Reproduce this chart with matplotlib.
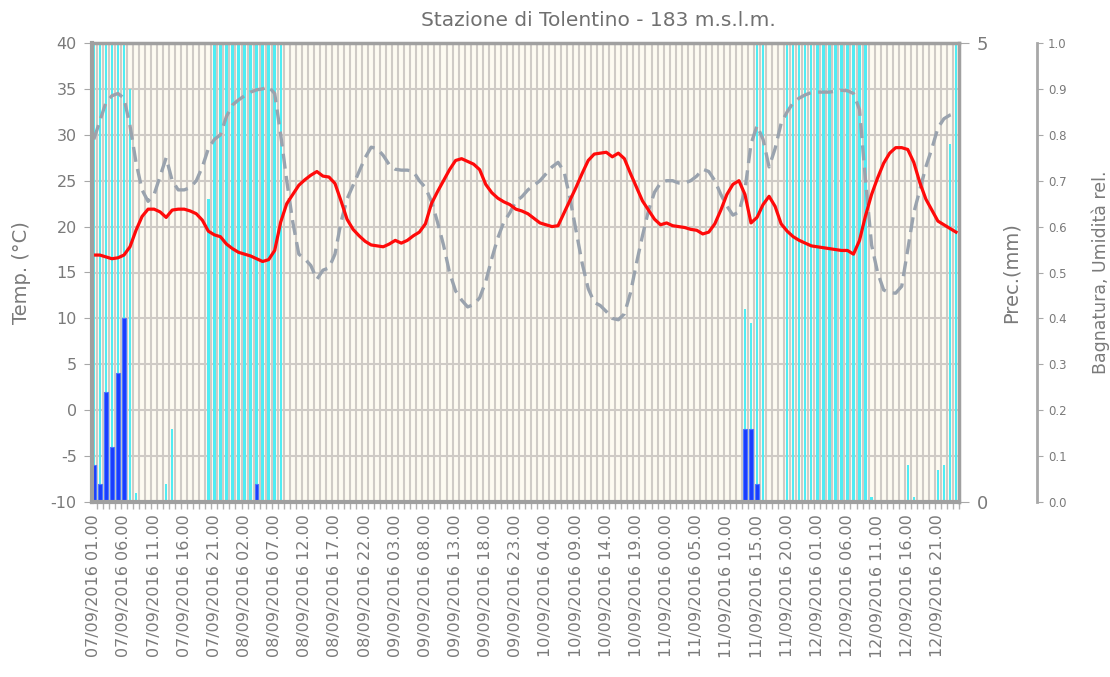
import matplotlib
matplotlib.use("Agg")
import matplotlib.pyplot as plt
import numpy as np
from matplotlib.ticker import FixedLocator

# ---------------- data (hourly, 07/09/2016 01.00 -> 13/09/2016 00.00) ----------------
temperature = [
    16.9, 16.9, 16.7, 16.5, 16.6, 16.9, 17.8, 19.6, 21.1, 21.9, 21.9, 21.6, 21.0, 21.8, 21.9, 21.9, 21.7, 21.4, 20.7, 19.5, 19.1, 18.9, 18.1, 17.6,
    17.2, 17.0, 16.8, 16.5, 16.2, 16.4, 17.4, 20.5, 22.5, 23.5, 24.5, 25.1, 25.6, 26.0, 25.5, 25.4, 24.7, 22.8, 20.8, 19.7, 19.0, 18.4, 18.0, 17.9,
    17.8, 18.1, 18.5, 18.2, 18.5, 19.0, 19.4, 20.3, 22.5, 23.8, 25.0, 26.2, 27.2, 27.4, 27.1, 26.8, 26.2, 24.6, 23.7, 23.1, 22.7, 22.4, 21.9, 21.7,
    21.4, 20.9, 20.4, 20.2, 20.0, 20.1, 21.5, 22.9, 24.3, 25.8, 27.2, 27.9, 28.0, 28.1, 27.6, 28.0, 27.4, 25.8, 24.3, 22.8, 21.8, 20.8, 20.2, 20.4,
    20.1, 20.0, 19.9, 19.7, 19.6, 19.2, 19.4, 20.3, 21.8, 23.5, 24.6, 25.0, 23.5, 20.4, 21.0, 22.4, 23.3, 22.2, 20.3, 19.5, 18.9, 18.5, 18.2, 17.9,
    17.8, 17.7, 17.6, 17.5, 17.4, 17.4, 17.0, 18.5, 21.2, 23.5, 25.3, 26.9, 28.0, 28.6, 28.6, 28.4, 27.0, 24.8, 23.0, 21.8, 20.6, 20.2, 19.8, 19.4,
]

humidity = [
    0.79, 0.83, 0.87, 0.885, 0.89, 0.88, 0.82, 0.74, 0.68, 0.655, 0.67, 0.71, 0.75, 0.70, 0.68, 0.68, 0.685, 0.70, 0.73, 0.77, 0.79, 0.80, 0.84, 0.865,
    0.876, 0.885, 0.893, 0.898, 0.90, 0.905, 0.89, 0.80, 0.70, 0.61, 0.54, 0.53, 0.515, 0.485, 0.505, 0.51, 0.54, 0.61, 0.66, 0.69, 0.72, 0.75, 0.773, 0.77,
    0.755, 0.735, 0.725, 0.723, 0.723, 0.72, 0.70, 0.685, 0.655, 0.61, 0.56, 0.50, 0.46, 0.44, 0.425, 0.43, 0.445, 0.48, 0.53, 0.575, 0.61, 0.63, 0.655, 0.665,
    0.68, 0.69, 0.70, 0.715, 0.73, 0.74, 0.72, 0.66, 0.59, 0.52, 0.465, 0.435, 0.428, 0.415, 0.40, 0.397, 0.41, 0.455, 0.52, 0.58, 0.635, 0.675, 0.695, 0.70,
    0.70, 0.695, 0.695, 0.70, 0.71, 0.725, 0.72, 0.70, 0.67, 0.645, 0.625, 0.632, 0.68, 0.78, 0.82, 0.79, 0.73, 0.77, 0.825, 0.85, 0.87, 0.88, 0.887, 0.892,
    0.893, 0.893, 0.893, 0.895, 0.897, 0.896, 0.89, 0.855, 0.70, 0.56, 0.50, 0.462, 0.456, 0.455, 0.47, 0.55, 0.63, 0.68, 0.73, 0.77, 0.815, 0.835, 0.843, 0.847,
]

wetness = [
    1.0, 1.0, 1.0, 1.0, 1.0, 1.0, 0.9, 0.02, 0, 0, 0, 0, 0.04, 0.16, 0, 0, 0, 0, 0, 0.66, 1.0, 1.0, 1.0, 1.0,
    1.0, 1.0, 1.0, 1.0, 1.0, 1.0, 1.0, 1.0, 0, 0, 0, 0, 0, 0, 0, 0, 0, 0, 0, 0, 0, 0, 0, 0,
    0, 0, 0, 0, 0, 0, 0, 0, 0, 0, 0, 0, 0, 0, 0, 0, 0, 0, 0, 0, 0, 0, 0, 0,
    0, 0, 0, 0, 0, 0, 0, 0, 0, 0, 0, 0, 0, 0, 0, 0, 0, 0, 0, 0, 0, 0, 0, 0,
    0, 0, 0, 0, 0, 0, 0, 0, 0, 0, 0, 0, 0.42, 0.39, 1.0, 1.0, 0, 0, 0, 1.0, 1.0, 1.0, 1.0, 1.0,
    1.0, 1.0, 1.0, 1.0, 1.0, 1.0, 1.0, 1.0, 1.0, 0.01, 0, 0, 0, 0, 0, 0.08, 0.01, 0, 0, 0, 0.07, 0.08, 0.78, 1.0,
]

precipitation = [
    0.4, 0.2, 1.2, 0.6, 1.4, 2.0, 0, 0, 0, 0, 0, 0, 0, 0, 0, 0, 0, 0, 0, 0, 0, 0, 0, 0,
    0, 0, 0, 0.2, 0, 0, 0, 0, 0, 0, 0, 0, 0, 0, 0, 0, 0, 0, 0, 0, 0, 0, 0, 0,
    0, 0, 0, 0, 0, 0, 0, 0, 0, 0, 0, 0, 0, 0, 0, 0, 0, 0, 0, 0, 0, 0, 0, 0,
    0, 0, 0, 0, 0, 0, 0, 0, 0, 0, 0, 0, 0, 0, 0, 0, 0, 0, 0, 0, 0, 0, 0, 0,
    0, 0, 0, 0, 0, 0, 0, 0, 0, 0, 0, 0, 0.8, 0.8, 0.2, 0, 0, 0, 0, 0, 0, 0, 0, 0,
    0, 0, 0, 0, 0, 0, 0, 0, 0, 0, 0, 0, 0, 0, 0, 0, 0, 0, 0, 0, 0, 0, 0, 0,
]

tick_labels = [
    "07/09/2016 01.00", "07/09/2016 06.00", "07/09/2016 11.00", "07/09/2016 16.00", "07/09/2016 21.00",
    "08/09/2016 02.00", "08/09/2016 07.00", "08/09/2016 12.00", "08/09/2016 17.00", "08/09/2016 22.00",
    "09/09/2016 03.00", "09/09/2016 08.00", "09/09/2016 13.00", "09/09/2016 18.00", "09/09/2016 23.00",
    "10/09/2016 04.00", "10/09/2016 09.00", "10/09/2016 14.00", "10/09/2016 19.00", "11/09/2016 00.00",
    "11/09/2016 05.00", "11/09/2016 10.00", "11/09/2016 15.00", "11/09/2016 20.00", "12/09/2016 01.00",
    "12/09/2016 06.00", "12/09/2016 11.00", "12/09/2016 16.00", "12/09/2016 21.00",
]
tick_step = 5

title = "Stazione di Tolentino - 183 m.s.l.m."

# ---------------- styling ----------------
W, H = 1110, 677
L, R, T, B = 92, 959, 43, 502
BG = "#FDFBF1"
GRID = "#CFCBC6"
AXC = "#A0A0A0"
TXT = "#7A7A7A"

fig = plt.figure(figsize=(W / 100, H / 100), dpi=100)
fig.patch.set_facecolor("white")

x = np.arange(len(temperature))

ax_b = fig.add_axes([L / W, 1 - B / H, (R - L) / W, (B - T) / H])
ax_p = ax_b.twinx()
ax_h = ax_b.twinx()
ax_t = ax_b.twinx()

# ---- base axes: background, grid, wetness bars, far-right 0..1 axis ----
ax_b.set_facecolor(BG)
ax_b.set_xlim(-0.3, len(x) - 0.5)
ax_b.set_ylim(0, 1)
ax_b.xaxis.set_minor_locator(FixedLocator(x + 0.5))
ax_b.grid(True, which="minor", axis="x", color=GRID, lw=1.5, zorder=0)
ax_b.set_yticks(np.round(np.arange(0, 1.01, 0.1), 1))
ax_b.grid(True, which="major", axis="y", color=GRID, lw=1.5, zorder=0)
ax_b.set_axisbelow(True)

ax_b.bar(x, wetness, width=0.4, color="#4FEDF4", zorder=2)

ax_b.set_xticks(x[::tick_step])
ax_b.set_xticklabels(tick_labels, rotation=90, fontsize=11.5, color=TXT, va="top", ha="center")
ax_b.tick_params(axis="x", which="major", length=0, pad=9)
ax_b.tick_params(axis="x", which="minor", length=5, color="#B0B0B0", width=1, direction="out")

ax_b.yaxis.tick_right()
ax_b.spines["right"].set_position(("axes", (1037 - L) / (R - L)))
ax_b.spines["right"].set_color("#A8A8A8")
ax_b.spines["right"].set_linewidth(2)
ax_b.set_yticklabels([f"{v:.1f}" for v in np.arange(0, 1.01, 0.1)], fontsize=8.5, color=TXT)
ax_b.tick_params(axis="y", left=False, labelleft=False, right=True, labelright=True,
                 length=4, color="#A8A8A8", pad=4)
ax_b.yaxis.set_label_position("right")
ax_b.set_ylabel("Bagnatura, Umidità rel.", fontsize=12.5, color=TXT)
ax_b.yaxis.set_label_coords((1091 - L) / (R - L), 0.5)
for s in ["left", "top", "bottom"]:
    ax_b.spines[s].set_visible(False)

# ---- precipitation axis ----
ax_p.set_ylim(0, 5)
ax_p.bar(x, precipitation, width=0.62, color="#1A3CFF", edgecolor="#4A78FF", linewidth=0.8, zorder=3)
ax_p.set_yticks([0, 5])
ax_p.set_yticklabels(["0", "5"], fontsize=13, color=TXT)
ax_p.tick_params(axis="y", length=7, color="#A8A8A8", pad=6)
ax_p.set_ylabel("Prec.(mm)", fontsize=14, color=TXT)
ax_p.yaxis.set_label_coords((1002 - L) / (R - L), 0.5)
for s in ["left", "top", "bottom"]:
    ax_p.spines[s].set_visible(False)
ax_p.spines["right"].set_color(AXC)
ax_p.spines["right"].set_linewidth(2.5)

# ---- humidity line (same 0..1 scale as wetness) ----
ax_h.set_ylim(0, 1)
ax_h.plot(x, humidity, color="#9AA3AE", lw=2.4, dashes=(4.5, 2.2), solid_capstyle="butt")
ax_h.set_yticks([])
for s in ax_h.spines.values():
    s.set_visible(False)

# ---- temperature axis ----
ax_t.set_ylim(-10, 40)
ax_t.plot(x, temperature, color="#FF0A0A", lw=2.3)
ax_t.yaxis.tick_left()
ax_t.yaxis.set_label_position("left")
ax_t.set_yticks(np.arange(-10, 41, 5))
ax_t.set_yticklabels([str(v) for v in range(-10, 41, 5)], fontsize=11.5, color=TXT)
ax_t.tick_params(axis="y", length=6, color="#A8A8A8", pad=5)
ax_t.set_ylabel("Temp. (°C)", fontsize=14, color=TXT)
ax_t.yaxis.set_label_coords((31 - L) / (R - L), 0.5)
ax_t.spines["right"].set_visible(False)
for s in ["left", "top", "bottom"]:
    ax_t.spines[s].set_color(AXC)
ax_t.spines["left"].set_linewidth(3)
ax_t.spines["top"].set_linewidth(2.5)
ax_t.spines["bottom"].set_linewidth(3)

fig.text(598 / W, 1 - 20 / H, title, ha="center", va="center", fontsize=14.5, color="#707070")

fig.savefig("out.png", dpi=100, facecolor="white")
